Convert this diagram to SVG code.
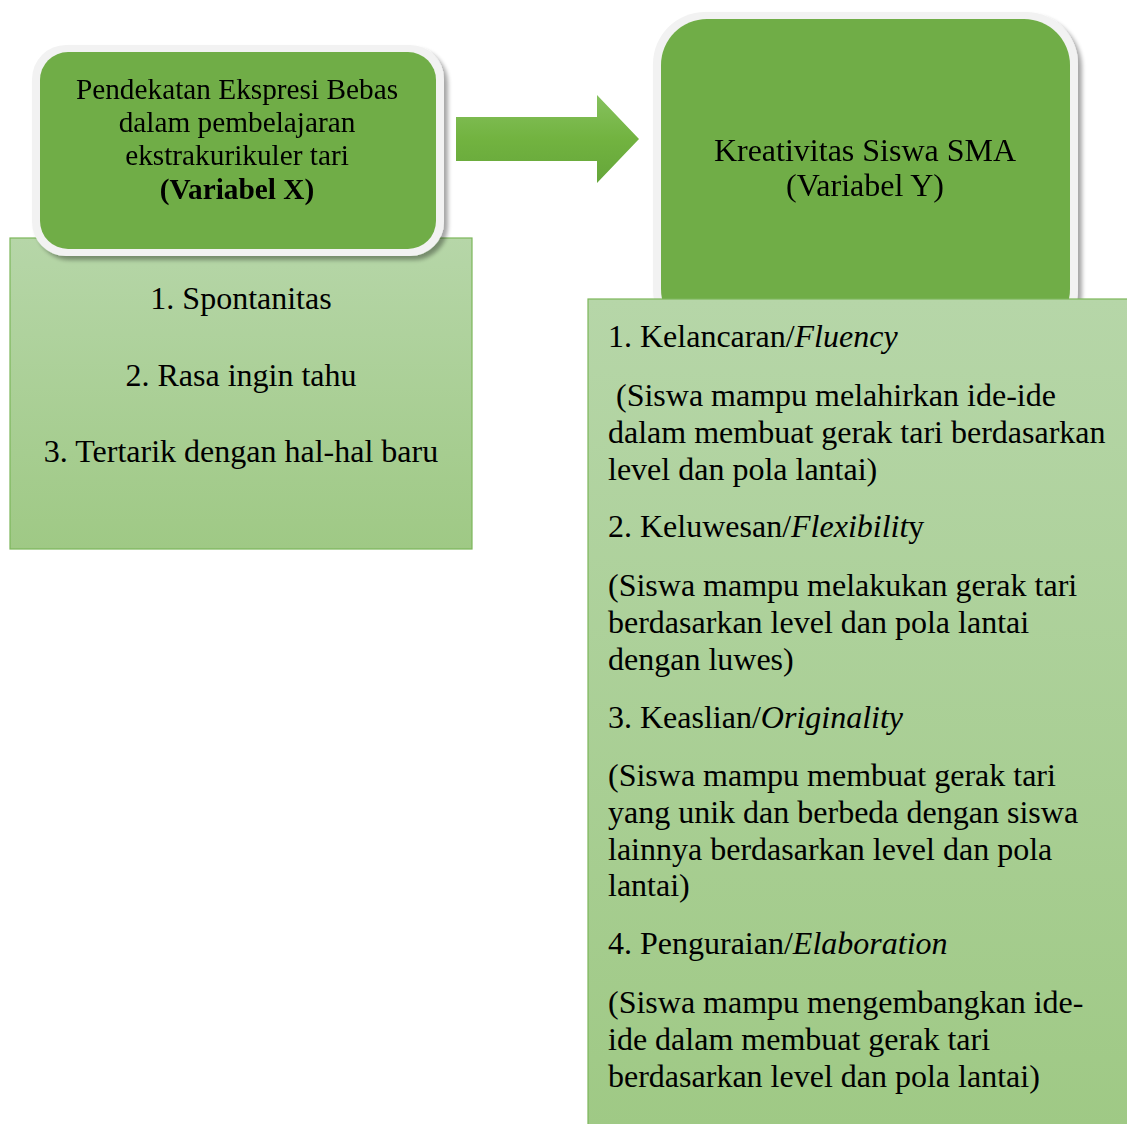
<svg xmlns="http://www.w3.org/2000/svg" width="1127" height="1124" viewBox="0 0 1127 1124">
<defs>
<linearGradient id="lg" x1="0" y1="0" x2="0" y2="1">
<stop offset="0" stop-color="#b6d6a8"/>
<stop offset="1" stop-color="#9fc985"/>
</linearGradient>
<linearGradient id="ag" x1="0" y1="0" x2="0" y2="1">
<stop offset="0" stop-color="#86c15e"/>
<stop offset="0.5" stop-color="#72b340"/>
<stop offset="1" stop-color="#65a63a"/>
</linearGradient>
<filter id="sh" x="-10%" y="-10%" width="130%" height="130%">
<feGaussianBlur in="SourceAlpha" stdDeviation="2"/>
<feOffset dx="4" dy="4"/>
<feComponentTransfer><feFuncA type="linear" slope="0.35"/></feComponentTransfer>
<feMerge><feMergeNode/><feMergeNode in="SourceGraphic"/></feMerge>
</filter>
</defs>
<style>
.t{font-family:"Liberation Serif","Times New Roman",serif;fill:#000}
.main{fill:#70ad47}
.frame{fill:#f2f2f2}
.list{fill:url(#lg);stroke:#7cb65a;stroke-width:1.2}
</style>
<rect width="1127" height="1124" fill="#fff"/>
<g id="list-x">
<rect class="list" x="10" y="238" width="462" height="311"/>
<text class="t" font-size="32" text-anchor="middle"><tspan x="241" y="309">1. Spontanitas</tspan><tspan x="241" y="386">2. Rasa ingin tahu</tspan><tspan x="241" y="462">3. Tertarik dengan hal-hal baru</tspan></text>
</g>
<g id="var-x" filter="url(#sh)">
<rect class="frame" x="32" y="45" width="412" height="211" rx="34"/>
<rect class="main" x="40" y="52" width="396" height="197" rx="28"/>
<text class="t" font-size="29.3" text-anchor="middle"><tspan x="237" y="99">Pendekatan Ekspresi Bebas</tspan><tspan x="237" y="132">dalam pembelajaran</tspan><tspan x="237" y="165">ekstrakurikuler tari</tspan><tspan x="237" y="199" font-weight="bold">(Variabel X)</tspan></text>
</g>
<g id="connectors">
<polygon points="456,117 597,117 597,95 639,139 597,183 597,161 456,161" fill="url(#ag)"/>
</g>
<g id="var-y" filter="url(#sh)">
<rect class="frame" x="653" y="12" width="425" height="330" rx="52"/>
<rect class="main" x="661" y="19" width="409" height="316" rx="46"/>
<text class="t" font-size="32" text-anchor="middle"><tspan x="865" y="161">Kreativitas Siswa SMA</tspan><tspan x="865" y="196">(Variabel Y)</tspan></text>
</g>
<g id="list-y">
<rect class="list" x="588" y="299" width="545" height="830"/>
<text class="t" font-size="32">
<tspan x="608" y="347">1. Kelancaran/<tspan font-style="italic">Fluency</tspan></tspan>
<tspan x="616" y="406">(Siswa mampu melahirkan ide-ide</tspan>
<tspan x="608" y="443">dalam membuat gerak tari berdasarkan</tspan>
<tspan x="608" y="480">level dan pola lantai)</tspan>
<tspan x="608" y="537">2. Keluwesan/<tspan font-style="italic">Flexibilit</tspan>y</tspan>
<tspan x="608" y="596">(Siswa mampu melakukan gerak tari</tspan>
<tspan x="608" y="633">berdasarkan level dan pola lantai</tspan>
<tspan x="608" y="670">dengan luwes)</tspan>
<tspan x="608" y="728">3. Keaslian/<tspan font-style="italic">Originality</tspan></tspan>
<tspan x="608" y="786">(Siswa mampu membuat gerak tari</tspan>
<tspan x="608" y="823">yang unik dan berbeda dengan siswa</tspan>
<tspan x="608" y="860">lainnya berdasarkan level dan pola</tspan>
<tspan x="608" y="896">lantai)</tspan>
<tspan x="608" y="954">4. Penguraian/<tspan font-style="italic">Elaboration</tspan></tspan>
<tspan x="608" y="1013">(Siswa mampu mengembangkan ide-</tspan>
<tspan x="608" y="1050">ide dalam membuat gerak tari</tspan>
<tspan x="608" y="1087">berdasarkan level dan pola lantai)</tspan>
</text>
</g>
</svg>
